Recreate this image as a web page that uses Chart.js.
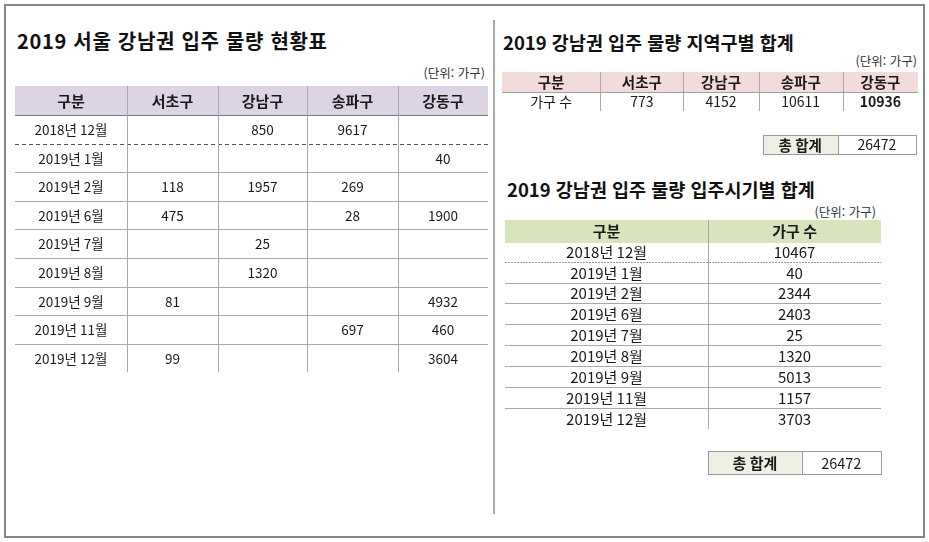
<!DOCTYPE html>
<html lang="ko">
<head>
  <meta charset="UTF-8"/>
  <title>2019 강남권 입주 물량</title>
  <script src="https://cdn.jsdelivr.net/npm/chart.js"></script>
  <style>
    body { margin:0; width:929px; height:542px; background:#fff; font-family:'Noto Sans CJK KR', sans-serif; position:relative; overflow:hidden; }
    .frame { position:absolute; left:4px; top:4px; width:917px; height:530px; border:2px solid #858585; }
    .divider { position:absolute; left:493px; top:20px; width:2px; height:494px; background:#a8a8a8; }
    .title { position:absolute; font-weight:bold; color:#111; white-space:nowrap; height:26px; line-height:26px; }
    .unit { position:absolute; font-size:12.5px; color:#333; white-space:nowrap; height:14px; line-height:14px; text-align:right; }
    .box { position:absolute; }
  </style>
</head>
<body>
  <div class="frame"></div>
  <div class="divider"></div>

  <!-- titles -->
  <div class="title" style="left:17px; top:28px; font-size:20px; letter-spacing:0.7px;">2019 서울 강남권 입주 물량 현황표</div>
  <div class="unit" style="right:444px; top:66px;">(단위: 가구)</div>

  <div class="title" style="left:503px; top:29px; font-size:18.5px;">2019 강남권 입주 물량 지역구별 합계</div>
  <div class="unit" style="right:12px; top:54px;">(단위: 가구)</div>

  <div class="title" style="left:507px; top:176px; font-size:18.5px;">2019 강남권 입주 물량 입주시기별 합계</div>
  <div class="unit" style="right:53px; top:205px;">(단위: 가구)</div>

  <div class="box" style="left:13px; top:84px;"><canvas id="monthlyTable" width="477" height="292"></canvas></div>
  <div class="box" style="left:500px; top:68px;"><canvas id="regionTable" width="420" height="90"></canvas></div>
  <div class="box" style="left:503px; top:216px;"><canvas id="periodTable" width="380" height="262"></canvas></div>

  <script>
    // ---- data ----
    const regionLabels = ['서초구', '강남구', '송파구', '강동구'];
    const monthLabels = ['2018년 12월', '2019년 1월', '2019년 2월', '2019년 6월', '2019년 7월',
                         '2019년 8월', '2019년 9월', '2019년 11월', '2019년 12월'];
    const seocho   = [null, null, 118, 475, null, null, 81, null, 99];
    const gangnam  = [850, null, 1957, null, 25, 1320, null, null, null];
    const songpa   = [9617, null, 269, 28, null, null, null, 697, null];
    const gangdong = [null, 40, null, 1900, null, null, 4932, 460, 3604];

    const regionTotals = [773, 4152, 10611, 10936];
    const monthTotals = [10467, 40, 2344, 2403, 25, 1320, 5013, 1157, 3703];
    const grandTotal = 26472;

    const FONT = "'Noto Sans CJK KR', sans-serif";

    // draws a table on the chart area; columns/rows are placed through the x / y scales
    function makeTable(id, spec) {
      const W = spec.colEdges[spec.colEdges.length - 1];
      const H = spec.height;
      const tablePlugin = {
        id: 'tableCells',
        afterDraw(chart) {
          const { ctx, scales: { x, y } } = chart;
          const X = v => x.getPixelForValue(v);
          const Y = v => y.getPixelForValue(v);
          const crisp = v => Math.round(v) + 0.5;
          const ce = spec.colEdges, re = spec.rowEdges;
          const nRows = re.length - 1;

          ctx.save();
          // header fill
          ctx.fillStyle = spec.headerFill;
          ctx.fillRect(X(ce[0]), Y(re[0]), X(ce[ce.length - 1]) - X(ce[0]), Y(re[1]) - Y(re[0]));

          // horizontal lines
          ctx.lineWidth = 1;
          for (let r = 1; r < nRows; r++) {
            const yy = crisp(Y(re[r]));
            ctx.beginPath();
            if (r === 1) {
              ctx.strokeStyle = spec.headerLine;
              ctx.setLineDash([]);
            } else if (r - 2 === spec.dashedAfter) {
              ctx.strokeStyle = spec.dashColor;
              ctx.setLineDash(spec.dash);
            } else {
              ctx.strokeStyle = spec.gridColor;
              ctx.setLineDash([]);
            }
            ctx.moveTo(X(ce[0]), yy);
            ctx.lineTo(X(ce[ce.length - 1]), yy);
            ctx.stroke();
          }
          ctx.setLineDash([]);

          // vertical lines
          ctx.strokeStyle = spec.gridColor;
          for (let c = 1; c < ce.length - 1; c++) {
            const xx = crisp(X(ce[c]));
            ctx.beginPath();
            ctx.moveTo(xx, Y(re[0]));
            ctx.lineTo(xx, Y(re[nRows]));
            ctx.stroke();
          }

          // text
          ctx.textAlign = 'center';
          ctx.textBaseline = 'middle';
          ctx.fillStyle = '#1a1a1a';
          const cell = (txt, c, r, font) => {
            if (txt === null || txt === undefined || txt === '') return;
            ctx.font = font;
            ctx.fillText(String(txt), (X(ce[c]) + X(ce[c + 1])) / 2, (Y(re[r]) + Y(re[r + 1])) / 2 + 0.5);
          };
          spec.header.forEach((h, c) => cell(h, c, 0, `bold ${spec.headSize}px ${FONT}`));
          spec.rows.forEach((row, r) => row.forEach((v, c) => {
            const bold = spec.boldCells && spec.boldCells.some(b => b[0] === r && b[1] === c);
            cell(v, c, r + 1, `${bold ? 'bold ' : ''}${spec.bodySize}px ${FONT}`);
          }));

          // total box
          if (spec.total) {
            const t = spec.total;
            const x0 = X(t.x[0]), x1 = X(t.x[1]), x2 = X(t.x[2]);
            const y0 = Y(t.y[0]), y1 = Y(t.y[1]);
            ctx.fillStyle = t.fill;
            ctx.fillRect(x0, y0, x1 - x0, y1 - y0);
            ctx.strokeStyle = t.border;
            ctx.strokeRect(crisp(x0), crisp(y0), Math.round(x2 - x0), Math.round(y1 - y0));
            ctx.beginPath();
            ctx.moveTo(crisp(x1), y0);
            ctx.lineTo(crisp(x1), y1);
            ctx.stroke();
            ctx.fillStyle = '#1a1a1a';
            ctx.font = `bold ${t.size}px ${FONT}`;
            ctx.fillText(t.label, (x0 + x1) / 2, (y0 + y1) / 2 + 0.5);
            ctx.font = `${t.size - 0.5}px ${FONT}`;
            ctx.fillText(String(t.value), (x1 + x2) / 2, (y0 + y1) / 2 + 0.5);
          }
          ctx.restore();
        }
      };

      return new Chart(document.getElementById(id), {
        type: 'scatter',
        data: { datasets: [] },
        options: {
          responsive: false,
          animation: false,
          events: [],
          layout: { padding: 0 },
          plugins: { legend: { display: false }, tooltip: { enabled: false }, title: { display: false } },
          scales: {
            x: { type: 'linear', display: false, min: -2, max: W + 2 },
            y: { type: 'linear', display: false, min: -2, max: H - 2, reverse: true }
          }
        },
        plugins: [tablePlugin]
      });
    }

    // left: monthly volume per district
    makeTable('monthlyTable', {
      colEdges: [0, 112, 203, 292, 383, 473],
      rowEdges: [0, 29, 57.6, 86.2, 114.8, 143.4, 172, 200.6, 229.2, 257.8, 286.4],
      height: 292,
      header: ['구분'].concat(regionLabels),
      rows: monthLabels.map((m, i) => [m, seocho[i], gangnam[i], songpa[i], gangdong[i]]),
      headerFill: '#dcd4e5',
      headerLine: '#7a7a7a',
      gridColor: '#a9a9a9',
      dashColor: '#555',
      dash: [4, 3],
      dashedAfter: 0,
      headSize: 15,
      bodySize: 13.5
    });

    // right top: totals by district
    makeTable('regionTable', {
      colEdges: [0, 98, 181, 256, 340, 415],
      rowEdges: [2, 22, 41],
      height: 90,
      header: ['구분'].concat(regionLabels),
      rows: [['가구 수'].concat(regionTotals)],
      boldCells: [[0, 4]],
      headerFill: '#f2dcdb',
      headerLine: '#a0a0a0',
      gridColor: '#a9a9a9',
      dashColor: '#999',
      dash: [2, 1],
      dashedAfter: -1,
      headSize: 14.5,
      bodySize: 14,
      total: { x: [260, 335, 413], y: [65, 84], label: '총 합계', value: grandTotal, size: 14.5, fill: '#eef0e3', border: '#9a9a9a' }
    });

    // right bottom: totals by move-in month
    makeTable('periodTable', {
      colEdges: [0, 202, 374],
      rowEdges: [2, 24, 44, 65, 85, 106, 127, 148, 169, 190, 211],
      height: 262,
      header: ['구분', '가구 수'],
      rows: monthLabels.map((m, i) => [m, monthTotals[i]]),
      headerFill: '#d8e4bc',
      headerLine: '#d8e4bc',
      gridColor: '#a9a9a9',
      dashColor: '#9a9a9a',
      dash: [2, 1],
      dashedAfter: 0,
      headSize: 15,
      bodySize: 15,
      total: { x: [202, 295, 374], y: [233, 256], label: '총 합계', value: grandTotal, size: 15, fill: '#eef0e3', border: '#9a9a9a' }
    });
  </script>
</body>
</html>
